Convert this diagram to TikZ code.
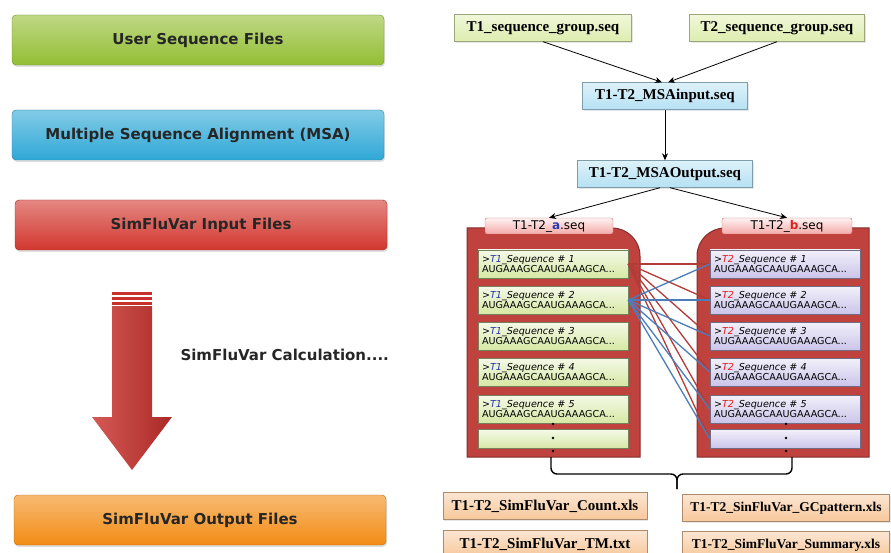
\documentclass[tikz,border=0pt]{standalone}
\usepackage{fontspec}
\setmainfont{Liberation Serif}
\newfontfamily\stagefont{DejaVu Sans}
\newfontfamily\seqfont{DejaVu Sans}
\usetikzlibrary{arrows.meta,shadows}

\definecolor{usergreen}{HTML}{93BE33}
\definecolor{msablue}{HTML}{2FA8D6}
\definecolor{inred}{HTML}{D2372F}
\definecolor{outorange}{HTML}{F28C14}
\definecolor{arrowred}{HTML}{C9302C}
\definecolor{filegreen}{HTML}{DDEDAE}
\definecolor{fileblue}{HTML}{B5E1F3}
\definecolor{fileorange}{HTML}{F7C79B}
\definecolor{framered}{HTML}{C0423E}
\definecolor{seqgreen}{HTML}{D6E8A4}
\definecolor{seqviolet}{HTML}{CBC4EA}
\definecolor{tabpink}{HTML}{F4AAA8}
\definecolor{linkred}{HTML}{B23C38}
\definecolor{linkblue}{HTML}{4A7EBB}
\definecolor{idblue}{HTML}{2A3AB0}
\definecolor{idred}{HTML}{E0201C}

\tikzset{
  stage/.style={rounded corners=4pt, inner sep=0pt, minimum width=372pt, minimum height=50pt,
    draw=#1!75!black, top color=#1!60!white, bottom color=#1, text=black!85,
    font=\stagefont\bfseries\fontsize{15}{17}\selectfont,
    drop shadow={opacity=.25, shadow xshift=1pt, shadow yshift=-2pt}},
  seqfile/.style={draw=#1!70!black, top color=#1!45!white, bottom color=#1, inner sep=0pt,
    minimum height=27pt, font=\bfseries\fontsize{15}{17}\selectfont,
    drop shadow={opacity=.2, shadow xshift=1pt, shadow yshift=-1.5pt}},
  flow/.style={-{Stealth[length=7pt,width=6pt]}, thick},
  frame/.style={fill=framered, draw=framered!70!black, line width=1pt},
  tab/.style={draw=framered!80!white, top color=white!85!tabpink, bottom color=tabpink,
    rounded corners=2pt, inner sep=0pt, minimum height=16pt,
    font=\seqfont\fontsize{12}{13}\selectfont},
  seqcell/.style={inner sep=4pt, text width=142pt, minimum height=28pt, align=left,
    font=\seqfont\fontsize{9.6}{10.6}\selectfont},
  seqT1/.style={seqcell, draw=seqgreen!55!black, top color=seqgreen!25!white, bottom color=seqgreen},
  seqT2/.style={seqcell, draw=seqviolet!55!black, top color=seqviolet!25!white, bottom color=seqviolet},
  link/.style={line width=1.3pt, draw=#1},
  dot/.style={circle, fill=black, inner sep=0pt, minimum size=2.6pt},
  brace/.style={line width=1.4pt, rounded corners=6pt},
  outfile/.style={seqfile=fileorange, minimum width=204pt}
}

% sequence header and bases for one cell
\newcommand\seqentry[3]{{\itshape>\textcolor{#1}{#2}\_Sequence \# #3}\\AUGAAAGCAAUGAAAGCA...}

\begin{document}
\begin{tikzpicture}[x=1pt,y=-1pt]
\useasboundingbox (0,0) rectangle (891,553);

% workflow stages on the left
\node[stage=usergreen] (user) at (198,40) {User Sequence Files};
\node[stage=msablue] (msa) at (198,135) {Multiple Sequence Alignment (MSA)};
\node[stage=inred] (input) at (201,225) {SimFluVar Input Files};
\node[stage=outorange] (output) at (200,520) {SimFluVar Output Files};

% big down arrow with its stripes
\fill[arrowred] (112,292) rectangle (152,294.5);
\fill[arrowred] (112,297) rectangle (152,299.5);
\fill[arrowred] (112,302) rectangle (152,304.5);
\shade[left color=arrowred!80!white, right color=arrowred!85!black]
  (112,306) -- (152,306) -- (152,417) -- (172,417) -- (132,470) -- (92,417) -- (112,417) -- cycle;
\node[anchor=west, font=\stagefont\bfseries\fontsize{15}{17}\selectfont, text=black!85] (calc) at (177,355) {SimFluVar Calculation....};

% sequence files and alignment
\node[seqfile=filegreen, minimum width=177pt] (t1grp) at (543,28) {T1\_sequence\_group.seq};
\node[seqfile=filegreen, minimum width=175pt] (t2grp) at (777,28) {T2\_sequence\_group.seq};
\node[seqfile=fileblue, minimum width=165pt] (msain) at (665,96) {T1-T2\_MSAinput.seq};
\node[seqfile=fileblue, minimum width=175pt] (msaout) at (665,174) {T1-T2\_MSAOutput.seq};

\draw[flow] (t1grp.south) -- ([xshift=-3pt]msain.north);
\draw[flow] (t2grp.south) -- ([xshift=3pt]msain.north);
\draw[flow] (msain.south) -- (msaout.north);

% the two input files
\filldraw[frame] (467,457) -- (467,228) -- (612,228) arc[start angle=270, end angle=360, radius=28] -- (640,457) -- cycle;
\filldraw[frame] (869,457) -- (869,228) -- (725,228) arc[start angle=270, end angle=180, radius=28] -- (697,457) -- cycle;

\node[tab, minimum width=128pt] (taba) at (549,226) {T1-T2\_\textcolor{idblue}{\bfseries a}.seq};
\node[tab, minimum width=130pt] (tabb) at (787,226) {T1-T2\_\textcolor{idred}{\bfseries b}.seq};
\draw[flow] ([xshift=-5pt]msaout.south) -- (taba.north);
\draw[flow] ([xshift=5pt]msaout.south) -- (tabb.north);

% T1 sequences
\node[seqT1] (l1) at (553,264) {\seqentry{idblue}{T1}{1}};
\node[seqT1] (l2) at (553,300) {\seqentry{idblue}{T1}{2}};
\node[seqT1] (l3) at (553,336) {\seqentry{idblue}{T1}{3}};
\node[seqT1] (l4) at (553,372) {\seqentry{idblue}{T1}{4}};
\node[seqT1] (l5) at (553,409) {\seqentry{idblue}{T1}{5}};
\node[seqT1, minimum height=19pt] (l6) at (553,439) {};

% T2 sequences
\node[seqT2] (r1) at (785,264) {\seqentry{idred}{T2}{1}};
\node[seqT2] (r2) at (785,300) {\seqentry{idred}{T2}{2}};
\node[seqT2] (r3) at (785,336) {\seqentry{idred}{T2}{3}};
\node[seqT2] (r4) at (785,372) {\seqentry{idred}{T2}{4}};
\node[seqT2] (r5) at (785,409) {\seqentry{idred}{T2}{5}};
\node[seqT2, minimum height=19pt] (r6) at (785,439) {};

% more sequences follow
\node[dot] (ld1) at (553,424) {};
\node[dot] (ld2) at (553,438) {};
\node[dot] (ld3) at (553,451) {};
\node[dot] (rd1) at (786,424) {};
\node[dot] (rd2) at (786,438) {};
\node[dot] (rd3) at (786,451) {};

% pairings of sequence 1
\draw[link=linkred] (l1.east) -- (r1.west);
\draw[link=linkred] (l1.east) -- (r2.west);
\draw[link=linkred] (l1.east) -- (r3.west);
\draw[link=linkred] (l1.east) -- (r4.west);
\draw[link=linkred] (l1.east) -- (r5.west);
\draw[link=linkred] (l1.east) -- (r6.west);
% pairings of sequence 2
\draw[link=linkblue] (l2.east) -- (r1.west);
\draw[link=linkblue] (l2.east) -- (r2.west);
\draw[link=linkblue] (l2.east) -- (r3.west);
\draw[link=linkblue] (l2.east) -- (r4.west);
\draw[link=linkblue] (l2.east) -- (r5.west);
\draw[link=linkblue] (l2.east) -- (r6.west);

% brace down to the results
\coordinate (bracel) at (551,457);
\coordinate (bracer) at (792,457);
\coordinate (bracetip) at (677,489);
\draw[brace] (bracel) -- (551,474) -- (677,474) -- (bracetip);
\draw[brace] (bracer) -- (792,474) -- (677,474) -- (bracetip);

% result files
\node[outfile] (count) at (545,506) {T1-T2\_SimFluVar\_Count.xls};
\node[outfile] (tm) at (545,544) {T1-T2\_SimFluVar\_TM.txt};
\node[outfile, minimum width=207pt, font=\bfseries\fontsize{13.5}{15}\selectfont] (gcpat) at (786,508) {T1-T2\_SinFluVar\_GCpattern.xls};
\node[outfile, minimum width=207pt, font=\bfseries\fontsize{13.5}{15}\selectfont] (summary) at (786,545) {T1-T2\_SimFluVar\_Summary.xls};

\end{tikzpicture}
\end{document}
